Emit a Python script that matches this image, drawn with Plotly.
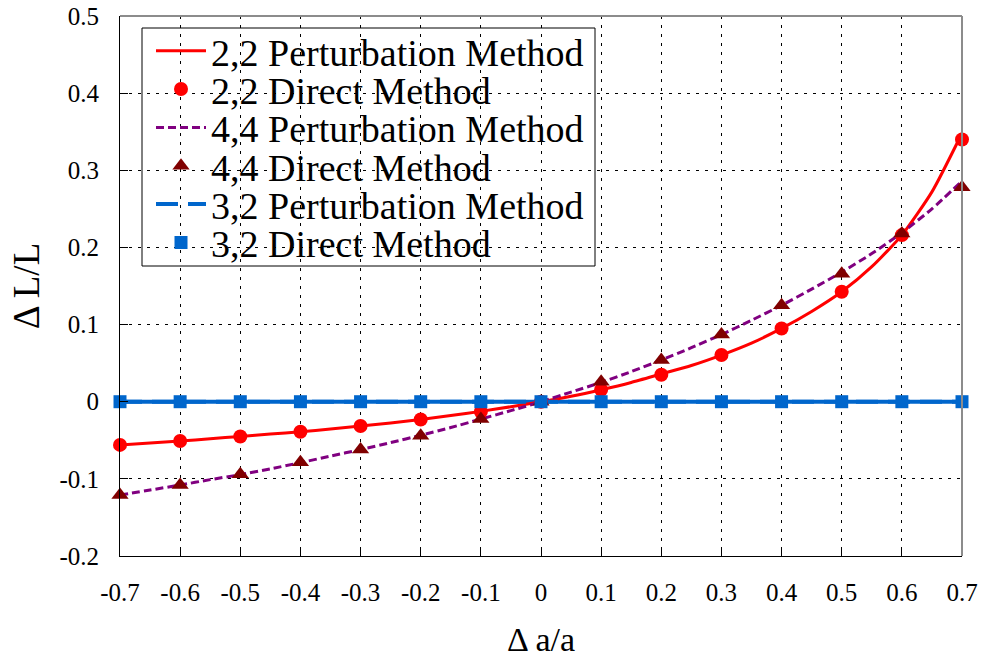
import plotly.graph_objects as go

# ---- data ----
x_direct = [-0.7, -0.6, -0.5, -0.4, -0.3, -0.2, -0.1, 0.0, 0.1, 0.2, 0.3, 0.4, 0.5, 0.6, 0.7]
y22_direct = [-0.056, -0.051, -0.045, -0.039, -0.0315, -0.023, -0.013, 0.0, 0.0155, 0.035, 0.0605, 0.095, 0.1425, 0.216, 0.340]
y44_direct = [-0.121, -0.108, -0.094, -0.0785, -0.062, -0.044, -0.0225, 0.0, 0.026, 0.054, 0.087, 0.125, 0.166, 0.218, 0.278]
y32_direct = [0.0] * 15

x_pert = [-0.7, -0.65, -0.6, -0.55, -0.5, -0.45, -0.4, -0.35, -0.3, -0.25, -0.2, -0.15, -0.1, -0.05,
          0.0, 0.05, 0.1, 0.15, 0.2, 0.25, 0.3, 0.35, 0.4, 0.45, 0.5, 0.55, 0.6, 0.65, 0.7]
y22_pert = [-0.056, -0.0535, -0.051, -0.048, -0.045, -0.042, -0.039, -0.0355, -0.0315, -0.0275, -0.023, -0.018,
            -0.0125, -0.0065, 0.0, 0.007, 0.0155, 0.025, 0.036, 0.047, 0.0605, 0.076, 0.095, 0.117, 0.1425,
            0.175, 0.216, 0.272, 0.348]
y44_pert = [-0.121, -0.1145, -0.108, -0.101, -0.0945, -0.087, -0.079, -0.0705, -0.062, -0.053, -0.0435, -0.0335,
            -0.0225, -0.0115, 0.0, 0.0125, 0.025, 0.039, 0.054, 0.070, 0.087, 0.1055, 0.125, 0.146, 0.168,
            0.192, 0.219, 0.250, 0.286]
y32_pert = [0.0] * 29

x_ticks = [-0.7, -0.6, -0.5, -0.4, -0.3, -0.2, -0.1, 0.0, 0.1, 0.2, 0.3, 0.4, 0.5, 0.6, 0.7]
x_ticklabels = ["-0.7", "-0.6", "-0.5", "-0.4", "-0.3", "-0.2", "-0.1", "0", "0.1", "0.2", "0.3", "0.4", "0.5", "0.6", "0.7"]
y_ticks = [-0.2, -0.1, 0.0, 0.1, 0.2, 0.3, 0.4, 0.5]
y_ticklabels = ["-0.2", "-0.1", "0", "0.1", "0.2", "0.3", "0.4", "0.5"]

series_names = ["2,2 Perturbation Method", "2,2 Direct Method", "4,4 Perturbation Method",
                "4,4 Direct Method", "3,2 Perturbation Method", "3,2 Direct Method"]

RED = "#ff0000"
PURPLE = "#800080"
DARKRED = "#800000"
BLUE = "#0066cc"
FONT = "Liberation Serif"

W, H = 981, 659
ML, MR, MT, MB = 120, 19, 16, 103
PW = W - ML - MR
PH = H - MT - MB


def px_x(px):
    return (px - ML) / PW


def px_y(py):
    return (H - MB - py) / PH


fig = go.Figure()

# solid blue connecting line for 3,2 (not in legend)
fig.add_trace(go.Scatter(x=x_direct, y=y32_direct, mode="lines", showlegend=False,
                         line=dict(color=BLUE, width=4), cliponaxis=False, hoverinfo="skip"))

fig.add_trace(go.Scatter(x=x_pert, y=y22_pert, mode="lines", name=series_names[0], legend="legend",
                         line=dict(color=RED, width=3, shape="spline", smoothing=0.6), cliponaxis=False))
fig.add_trace(go.Scatter(x=x_pert, y=y44_pert, mode="lines", name=series_names[2], legend="legend3",
                         line=dict(color=PURPLE, width=3, dash="8px,4px", shape="spline", smoothing=0.6),
                         cliponaxis=False))
fig.add_trace(go.Scatter(x=x_pert, y=y32_pert, mode="lines", name=series_names[4], legend="legend5",
                         line=dict(color=BLUE, width=4, dash="22px,10px"), cliponaxis=False))
fig.add_trace(go.Scatter(x=x_direct, y=y22_direct, mode="markers", name=series_names[1], legend="legend2",
                         marker=dict(color=RED, size=14, symbol="circle"), cliponaxis=False))
fig.add_trace(go.Scatter(x=x_direct, y=y44_direct, mode="markers", name=series_names[3], legend="legend4",
                         marker=dict(color=DARKRED, size=15, symbol="triangle-up"), cliponaxis=False))
fig.add_trace(go.Scatter(x=x_direct, y=y32_direct, mode="markers", name=series_names[5], legend="legend6",
                         marker=dict(color=BLUE, size=13, symbol="square"), cliponaxis=False))

TICKFONT = dict(family=FONT, size=25, color="black")
axis_common = dict(
    showline=True, linecolor="black", linewidth=1, mirror=False,
    ticks="inside", ticklen=8, tickcolor="black", tickwidth=1,
    showgrid=True, gridcolor="black", gridwidth=1, griddash="3px,6px",
    zeroline=False,
    automargin=False,
)

fig.update_xaxes(range=[-0.7, 0.7], tickmode="array", tickvals=x_ticks, ticktext=x_ticklabels,
                 tickfont=TICKFONT, ticklabelstandoff=14,
                 title=dict(text="Δ a/a", font=dict(family=FONT, size=34, color="black"), standoff=22),
                 **axis_common)
fig.update_yaxes(range=[-0.2, 0.5], tickmode="array", tickvals=y_ticks, ticktext=y_ticklabels,
                 tickfont=TICKFONT, ticklabelstandoff=15,
                 title=dict(text="Δ L/L", font=dict(family=FONT, size=37, color="black"), standoff=8),
                 **axis_common)

# legend rows (one legend per row to reproduce the tight row spacing)
row_centers = [52.5, 90.8, 129.2, 167.5, 205.8, 244.2]
legend_keys = ["legend", "legend2", "legend3", "legend4", "legend5", "legend6"]
legend_layout = {}
for key, cy in zip(legend_keys, row_centers):
    legend_layout[key] = dict(
        x=px_x(151), y=px_y(cy - 1.5), xanchor="left", yanchor="middle",
        bgcolor="rgba(0,0,0,0)", borderwidth=0,
        font=dict(family=FONT, size=38, color="black"),
        itemwidth=50,
    )

shapes = [
    # legend box
    dict(type="rect", xref="paper", yref="paper", x0=px_x(142), x1=px_x(595), y0=px_y(266), y1=px_y(28),
         fillcolor="white", line=dict(color="black", width=1), layer="between"),
    # top and right frame
    dict(type="line", xref="paper", yref="paper", x0=0, x1=1, y0=1, y1=1,
         line=dict(color="#8c8c8c", width=2), layer="above"),
    dict(type="line", xref="paper", yref="paper", x0=1, x1=1, y0=0, y1=1,
         line=dict(color="#8c8c8c", width=2), layer="above"),
]

fig.update_layout(
    width=W, height=H,
    margin=dict(l=ML, r=MR, t=MT, b=MB),
    paper_bgcolor="white", plot_bgcolor="white",
    font=dict(family=FONT, size=25, color="black"),
    showlegend=True,
    shapes=shapes,
    **legend_layout,
)

fig.write_html("out.html", config={"displayModeBar": False},
               post_script="document.body.style.margin='0';document.body.style.padding='0';")
